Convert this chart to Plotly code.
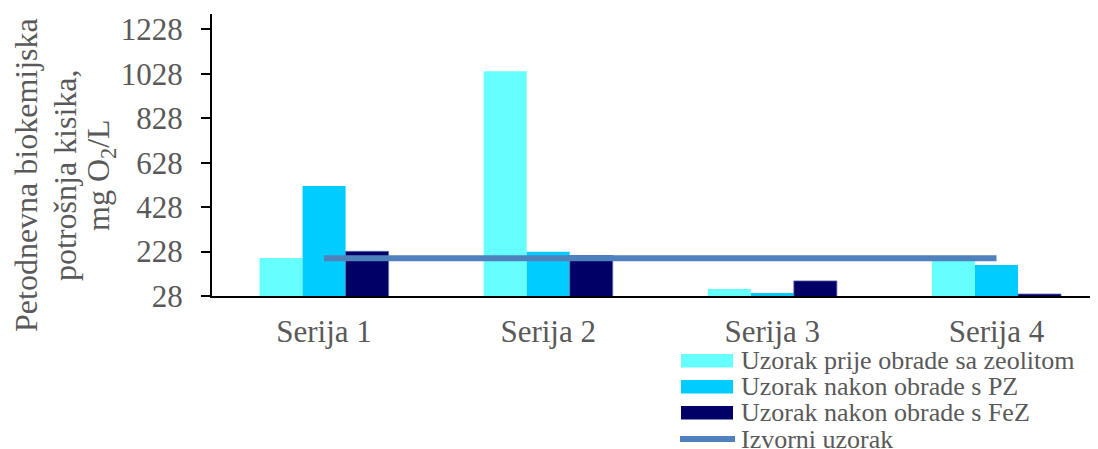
import plotly.graph_objects as go

# ---- data ----
categories = ["Serija 1", "Serija 2", "Serija 3", "Serija 4"]
prije_obrade = [199, 1039, 60, 200]      # Uzorak prije obrade sa zeolitom
nakon_pz = [523, 227, 42, 168]           # Uzorak nakon obrade s PZ
nakon_fez = [229, 210, 96, 37]           # Uzorak nakon obrade s FeZ
izvorni = [198, 198, 198, 198]           # Izvorni uzorak
y_ticks = [28, 228, 428, 628, 828, 1028, 1228]

series_names = [
    "Uzorak prije obrade sa zeolitom",
    "Uzorak nakon obrade s PZ",
    "Uzorak nakon obrade s FeZ",
    "Izvorni uzorak",
]
bar_colors = ["#66FFFF", "#00CCFF", "#000066"]
line_color = "#4F81BD"

# ---- layout constants (page pixels; page body has an 8px margin) ----
OFF = 8
W, H = 1098 - OFF, 449 - OFF
ML, MR, MT, MB = 212 - OFF, 0, 14 - OFF, 153
PW, PH = W - ML - MR, H - MT - MB
FONT = "Liberation Serif"
TXT = "#595959"


def px_x(p):
    return (p - OFF - ML) / PW


def px_y(p):
    return (H - MB - (p - OFF)) / PH


fig = go.Figure()
for vals, name, col in zip([prije_obrade, nakon_pz, nakon_fez], series_names[:3], bar_colors):
    fig.add_trace(go.Bar(
        x=categories, y=vals, name=name,
        marker=dict(color=col, line=dict(width=0.8 if col == "#000066" else 0,
                                         color="#6a6aa8")),
        showlegend=False,
    ))
fig.add_trace(go.Scatter(
    x=categories, y=izvorni, name=series_names[3], mode="lines",
    line=dict(color=line_color, width=6), showlegend=False,
))

# ---- y-axis title (three lines) ----
title_lines = ["Petodnevna biokemijska", "potrošnja kisika,", "mg O<sub>2</sub>/L"]
title_x = [26, 65, 100]
annotations = []
for t, xp in zip(title_lines, title_x):
    annotations.append(dict(
        text=t, xref="paper", yref="paper", x=px_x(xp), y=px_y(175),
        xanchor="center", yanchor="middle", textangle=-90, showarrow=False,
        font=dict(family=FONT, size=32, color=TXT),
    ))

# ---- legend (drawn below plot, right) ----
shapes = []
leg_rows = [360.7, 386.7, 412.7, 439]
for i, (name, yc) in enumerate(zip(series_names, leg_rows)):
    if i < 3:
        shapes.append(dict(type="rect", xref="paper", yref="paper",
                           x0=px_x(681), x1=px_x(733), y0=px_y(yc + 6.7), y1=px_y(yc - 6.7),
                           fillcolor=bar_colors[i], line=dict(width=0)))
    else:
        shapes.append(dict(type="line", xref="paper", yref="paper",
                           x0=px_x(680), x1=px_x(735), y0=px_y(yc), y1=px_y(yc),
                           line=dict(color=line_color, width=6)))
    annotations.append(dict(
        text=name, xref="paper", yref="paper", x=px_x(739), y=px_y(yc),
        xanchor="left", yanchor="middle", showarrow=False,
        font=dict(family=FONT, size=26, color=TXT),
    ))

fig.update_layout(
    width=W, height=H, autosize=False,
    margin=dict(l=ML, r=MR, t=MT, b=MB, pad=0),
    paper_bgcolor="white", plot_bgcolor="white",
    barmode="group", bargap=0.424, bargroupgap=0,
    annotations=annotations, shapes=shapes,
    showlegend=False,
    font=dict(family=FONT, color=TXT),
)
fig.update_xaxes(
    range=[-0.5, 3.453], showline=True, linecolor="black", linewidth=2,
    showgrid=False, ticks="", tickfont=dict(family=FONT, size=31, color=TXT),
    ticklabelstandoff=7, zeroline=False,
)
fig.update_yaxes(
    range=[28, 1297], tickvals=y_ticks, ticktext=[str(v) for v in y_ticks],
    showline=True, linecolor="black", linewidth=2, showgrid=False, zeroline=False,
    ticks="outside", ticklen=9, tickwidth=2, tickcolor="black",
    tickfont=dict(family=FONT, size=31, color=TXT), ticklabelstandoff=12,
)

fig.write_html("out.html")
